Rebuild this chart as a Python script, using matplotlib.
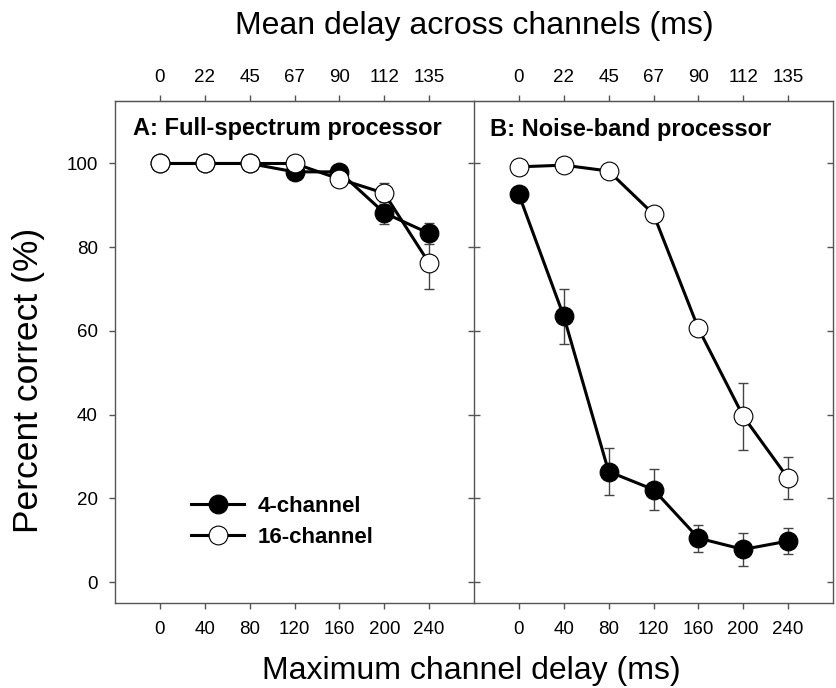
import matplotlib
matplotlib.use("Agg")
import matplotlib.pyplot as plt

plt.rcParams['font.family'] = ['Liberation Sans', 'DejaVu Sans']

max_delay = [0, 40, 80, 120, 160, 200, 240]
mean_delay_labels = ['0', '22', '45', '67', '90', '112', '135']
y_ticks = [0, 20, 40, 60, 80, 100]

# Panel A: Full-spectrum processor
a_4ch = [100, 100, 100, 98.0, 98.0, 88.2, 83.3]
a_4ch_err = [0, 0, 0, 0.8, 0.8, 2.7, 2.6]
a_16ch = [100, 100, 100, 100, 96.3, 92.9, 76.2]
a_16ch_err = [0, 0, 0, 0, 0.8, 2.5, 6.2]

# Panel B: Noise-band processor
b_4ch = [92.6, 63.5, 26.4, 22.1, 10.5, 7.8, 9.8]
b_4ch_err = [0, 6.6, 5.7, 5.0, 3.2, 4.0, 3.0]
b_16ch = [99.2, 99.6, 98.2, 87.9, 60.6, 39.6, 24.8]
b_16ch_err = [0, 0, 0, 0, 1.6, 8.0, 5.0]

panel_titles = ['A: Full-spectrum processor', 'B: Noise-band processor']
legend_labels = ['4-channel', '16-channel']

W, H = 836, 688
fig = plt.figure(figsize=(W / 100, H / 100), dpi=100)

ax_l, ax_b, ax_w, ax_h = 115 / W, 1 - 603 / H, 359 / W, (603 - 100.7) / H
axA = fig.add_axes([ax_l, ax_b, ax_w, ax_h])
axB = fig.add_axes([474 / W, ax_b, ax_w, ax_h])

spine_col = '#555555'
ms = 13.5
tick_fs = 13.5


def draw(ax, y4, e4, y16, e16):
    ax.errorbar(max_delay, y4, yerr=e4, fmt='none', ecolor='#444444',
                elinewidth=1, capsize=3.5, capthick=1, zorder=2)
    ax.errorbar(max_delay, y16, yerr=e16, fmt='none', ecolor='#444444',
                elinewidth=1, capsize=3.5, capthick=1, zorder=2)
    l4, = ax.plot(max_delay, y4, '-o', color='black', lw=2.2, ms=ms,
                  mfc='black', mec='black', mew=0.8, zorder=3,
                  label=legend_labels[0])
    l16, = ax.plot(max_delay, y16, '-o', color='black', lw=2.2, ms=ms,
                   mfc='white', mec='black', mew=0.8, zorder=4,
                   label=legend_labels[1])
    ax.set_xlim(-40, 280)
    ax.set_ylim(-5, 115)
    ax.set_xticks(max_delay)
    ax.set_xticklabels([str(v) for v in max_delay])
    for s in ax.spines.values():
        s.set_color(spine_col)
        s.set_linewidth(1.0)
    ax.tick_params(axis='x', direction='out', length=4.3, width=1,
                   color=spine_col, labelsize=tick_fs, pad=9)
    sec = ax.secondary_xaxis('top')
    sec.set_xticks(max_delay)
    sec.set_xticklabels(mean_delay_labels)
    sec.tick_params(direction='out', length=4.3, width=1, color=spine_col,
                    labelsize=tick_fs, pad=6)
    sec.spines['top'].set_color(spine_col)
    return l4, l16


l4, l16 = draw(axA, a_4ch, a_4ch_err, a_16ch, a_16ch_err)
draw(axB, b_4ch, b_4ch_err, b_16ch, b_16ch_err)

axA.set_yticks(y_ticks)
axA.tick_params(axis='y', direction='out', length=4.3, width=1,
                color=spine_col, labelsize=tick_fs, pad=8)
axA.spines['right'].set_visible(False)

axB.set_yticks(y_ticks)
axB.tick_params(axis='y', which='both', left=True, right=True,
                labelleft=False, direction='in', length=4.3, width=1,
                color=spine_col)
for t in axB.yaxis.get_major_ticks():
    t.tick1line.set_marker('_')
    t.tick1line.set_markersize(8.6)

axA.text(0.05, 0.945, panel_titles[0], transform=axA.transAxes,
         fontsize=17, fontweight='bold', va='center', ha='left')
axB.text(0.045, 0.943, panel_titles[1], transform=axB.transAxes,
         fontsize=17, fontweight='bold', va='center', ha='left')

axA.legend(handles=[l4, l16], loc='center left', bbox_to_anchor=(0.212, 0.162),
           frameon=False, prop={'weight': 'bold', 'size': 16},
           handlelength=2.4, handletextpad=0.6, labelspacing=0.45,
           borderpad=0, borderaxespad=0)

fig.text(474 / W, 1 - 26 / H, 'Mean delay across channels (ms)',
         fontsize=23, ha='center', va='center')
fig.text(471.5 / W, 1 - 679 / H, 'Maximum channel delay (ms)',
         fontsize=23, ha='center', va='baseline')
fig.text(29 / W, 1 - 380 / H, 'Percent correct (%)', fontsize=25.5,
         ha='center', va='center', rotation=90)

fig.savefig('out.png', dpi=100)
